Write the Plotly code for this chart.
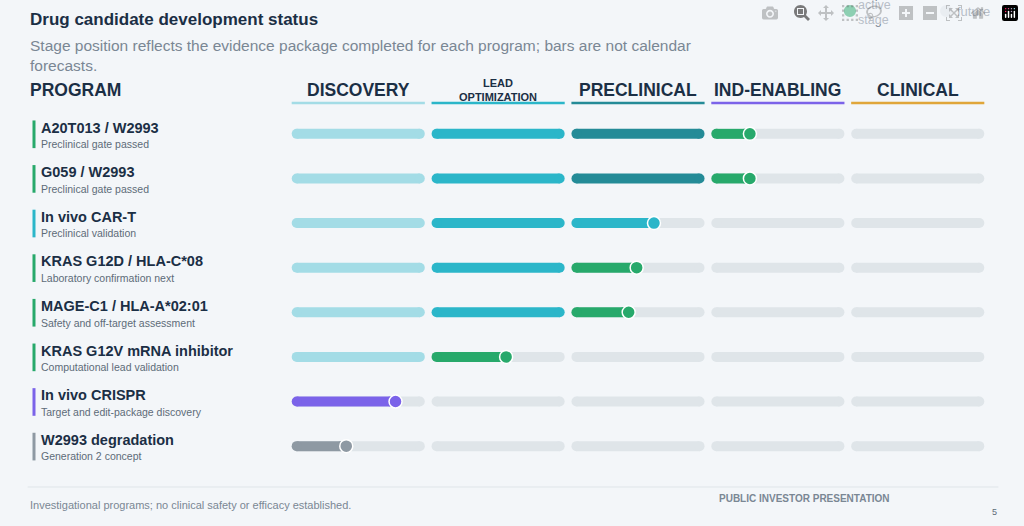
import plotly.graph_objects as go

stages = ["DISCOVERY", "LEAD<br>OPTIMIZATION", "PRECLINICAL", "IND-ENABLING", "CLINICAL"]
stage_colors = ["#a3dce6", "#2bb6c9", "#248b97", "#7b63e9", "#e0a63a"]
programs = ["A20T013 / W2993", "G059 / W2993", "In vivo CAR-T", "KRAS G12D / HLA-C*08",
            "MAGE-C1 / HLA-A*02:01", "KRAS G12V mRNA inhibitor", "In vivo CRISPR", "W2993 degradation"]
notes = ["Preclinical gate passed", "Preclinical gate passed", "Preclinical validation",
         "Laboratory confirmation next", "Safety and off-target assessment",
         "Computational lead validation", "Target and edit-package discovery", "Generation 2 concept"]
active_stage = [3, 3, 2, 2, 2, 1, 0, 0]
progress = [0.29, 0.29, 0.62, 0.49, 0.43, 0.56, 0.78, 0.41]
active_colors = ["#27a96b", "#27a96b", "#2bb6c9", "#27a96b", "#27a96b", "#27a96b", "#7b63e9", "#8e99a3"]

BG = "#f3f6f9"
FUT = "#dfe5e9"
W = 0.952   # bar length in column units
LW = 10
CAP = 0.036  # half the line width, in column units (round caps)

fig = go.Figure()


def bar(x0, x1, y, color):
    fig.add_trace(go.Scatter(x=[x0 + CAP, max(x1 - CAP, x0 + CAP)], y=[y, y], mode="lines+markers",
                             line=dict(color=color, width=LW),
                             marker=dict(size=LW, color=color, line=dict(width=0)),
                             hoverinfo="skip", showlegend=False))


for r in range(len(programs)):
    for s in range(len(stages)):
        x0 = s
        if s < active_stage[r]:
            bar(x0, x0 + W, r, stage_colors[s] if s < 3 else FUT)
        elif s == active_stage[r]:
            bar(x0, x0 + W, r, FUT)
            xe = x0 + W * progress[r]
            bar(x0, xe, r, active_colors[r])
            fig.add_trace(go.Scatter(x=[xe], y=[r], mode="markers",
                                     marker=dict(size=13, color=active_colors[r],
                                                 line=dict(color="white", width=1.5)),
                                     hoverinfo="skip", showlegend=False))
        else:
            bar(x0, x0 + W, r, FUT)
    fig.add_shape(type="line", xref="paper", yref="y", x0=0.0332, x1=0.0332,
                  y0=r - 0.3, y1=r + 0.32, line=dict(color=active_colors[r], width=3))
    fig.add_annotation(xref="paper", yref="y", x=0.038, y=r - 0.14, text="<b>%s</b>" % programs[r],
                       showarrow=False, xanchor="left", font=dict(size=14.5, color="#1b2f45"))
    fig.add_annotation(xref="paper", yref="y", x=0.038, y=r + 0.23, text=notes[r],
                       showarrow=False, xanchor="left", font=dict(size=10.5, color="#5d6b78"))

for s, name in enumerate(stages):
    fig.add_shape(type="line", xref="x", yref="paper", x0=s, x1=s + W,
                  y0=1 - 103 / 526, y1=1 - 103 / 526, line=dict(color=stage_colors[s], width=2.5))
    small = "<br>" in name
    fig.add_annotation(xref="x", yref="paper", x=s + W / 2, y=1 - 90 / 526, text="<b>%s</b>" % name,
                       showarrow=False, font=dict(size=11 if small else 17.5, color="#1b2f45"),
                       yanchor="middle")

texts = [
    (0.027, 19, "<b>Drug candidate development status</b>", 17, "#1b2f45"),
    (0.027, 45, "Stage position reflects the evidence package completed for each program; bars are not calendar", 15.5, "#7a8794"),
    (0.027, 66, "forecasts.", 15.5, "#7a8794"),
    (0.027, 90, "<b>PROGRAM</b>", 17.5, "#1b2f45"),
    (0.027, 505, "Investigational programs; no clinical safety or efficacy established.", 11, "#7a8794"),
    (0.70, 498, "<b>PUBLIC INVESTOR PRESENTATION</b>", 10, "#7a8794"),
    (0.967, 512, "5", 9, "#5d6b78"),
    (0.836, 5, "active", 12.5, "#7a8794"),
    (0.836, 20, "stage", 12.5, "#7a8794"),
    (0.933, 12, "future", 13, "#7a8794"),
]
for x, py, t, sz, c in texts:
    fig.add_annotation(xref="paper", yref="paper", x=x, y=1 - py / 526, text=t, showarrow=False,
                       xanchor="left", yanchor="middle", font=dict(size=sz, color=c))

fig.add_shape(type="circle", xref="paper", yref="paper", x0=0.824, x1=0.836,
              y0=1 - 17 / 526, y1=1 - 5 / 526, fillcolor="#27a96b", line_width=0)
fig.add_shape(type="circle", xref="paper", yref="paper", x0=0.918, x1=0.930,
              y0=1 - 17 / 526, y1=1 - 5 / 526, fillcolor=FUT, line_width=0)
fig.add_shape(type="line", xref="paper", yref="paper", x0=0.027, x1=0.975,
              y0=1 - 487 / 526, y1=1 - 487 / 526, line=dict(color="#dfe5e9", width=1))

fig.update_xaxes(range=[-0.012, 4.964], domain=[290 / 1024, 986 / 1024], visible=False)
fig.update_yaxes(range=[8.79, -3.0], domain=[0, 1], visible=False)
fig.update_layout(width=1024, height=526, margin=dict(l=0, r=0, t=0, b=0),
                  paper_bgcolor=BG, plot_bgcolor=BG,
                  font=dict(family="Liberation Sans, Arial, sans-serif"))
fig.write_html("out.html", post_script="document.body.style.margin='0';")
